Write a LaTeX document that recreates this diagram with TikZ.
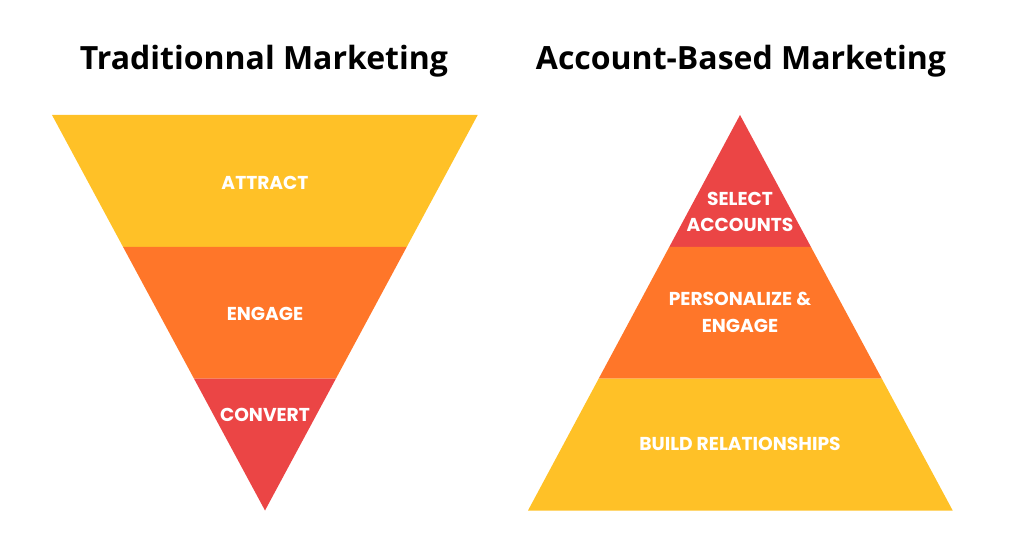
\documentclass[tikz,border=0pt]{standalone}
\usepackage{fontspec}
\usetikzlibrary{calc}
\newfontfamily\titlefont{Open Sans}
\newfontfamily\stagefont{Poppins}
\definecolor{funnelyellow}{RGB}{255,193,39}
\definecolor{funnelorange}{RGB}{255,118,41}
\definecolor{funnelred}{RGB}{235,69,69}
\begin{document}
\begin{tikzpicture}[x=0.75pt,y=-0.75pt,
    title/.style={font=\titlefont\bfseries\fontsize{24}{29}\selectfont,text=black},
    stage/.style={font=\stagefont\bfseries\fontsize{14}{20}\selectfont,text=white,align=center,inner sep=0pt}]
    \useasboundingbox (0,0) rectangle (1014,552);
    % titles
    \node[title](tt) at (264,61){Traditionnal Marketing};
    \node[title](at) at (741,61){Account-Based Marketing};
    % funnel corners
    \coordinate (fl) at (52,115);
    \coordinate (fr) at (477.7,115);
    \coordinate (fa) at (265,510.5);
    \coordinate (fl1) at ($(fl)!1/3!(fa)$);
    \coordinate (fr1) at ($(fr)!1/3!(fa)$);
    \coordinate (fl2) at ($(fl)!2/3!(fa)$);
    \coordinate (fr2) at ($(fr)!2/3!(fa)$);
    \fill[funnelyellow](fl)--(fr)--(fr1)--(fl1)--cycle;
    \fill[funnelorange](fl1)--(fr1)--(fr2)--(fl2)--cycle;
    \fill[funnelred](fl2)--(fr2)--(fa)--cycle;
    % pyramid corners
    \coordinate (pa) at (740,115);
    \coordinate (pl) at (528,510.5);
    \coordinate (pr) at (952.7,510.5);
    \coordinate (pl1) at ($(pa)!1/3!(pl)$);
    \coordinate (pr1) at ($(pa)!1/3!(pr)$);
    \coordinate (pl2) at ($(pa)!2/3!(pl)$);
    \coordinate (pr2) at ($(pa)!2/3!(pr)$);
    \fill[funnelred](pa)--(pr1)--(pl1)--cycle;
    \fill[funnelorange](pl1)--(pr1)--(pr2)--(pl2)--cycle;
    \fill[funnelyellow](pl2)--(pr2)--(pr)--(pl)--cycle;
    % labels
    \node[stage](attract) at (265,183){ATTRACT};
    \node[stage](engage) at (265,314){ENGAGE};
    \node[stage](convert) at (265,415){CONVERT};
    \node[stage](select) at (740,212){SELECT\\ACCOUNTS};
    \node[stage](personalize) at (740,312.5){PERSONALIZE \&\\ENGAGE};
    \node[stage](build) at (740,444){BUILD RELATIONSHIPS};
\end{tikzpicture}
\end{document}
